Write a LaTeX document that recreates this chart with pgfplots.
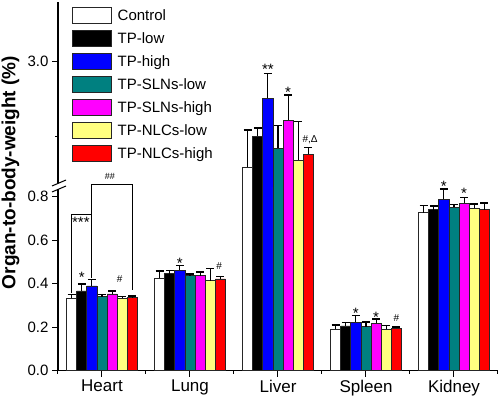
\documentclass[border=0pt]{standalone}
\usepackage{pgfplots}
\pgfplotsset{compat=1.18}
\usepackage{pgfplotstable}
\usepackage{fontspec}
\setmainfont{Liberation Sans}
\definecolor{cteal}{RGB}{0,128,128}
\definecolor{cyel}{RGB}{255,255,128}
\definecolor{cmag}{RGB}{255,0,255}
\definecolor{cblue}{RGB}{0,0,255}
\definecolor{cred}{RGB}{255,0,0}

% x: 1 Heart, 2 Lung, 3 Liver, 4 Spleen, 5 Kidney; y = mean, e = SD (upper)
\pgfplotstableread{
x y e
1 0.332 0.018
2 0.424 0.033
3 2.294 0.249
4 0.189 0.020
5 0.726 0.032
}\tControl
\pgfplotstableread{
x y e
1 0.366 0.032
2 0.445 0.014
3 2.503 0.054
4 0.205 0.015
5 0.740 0.016
}\tTPlow
\pgfplotstableread{
x y e
1 0.389 0.030
2 0.462 0.020
3 2.757 0.165
4 0.222 0.030
5 0.787 0.047
}\tTPhigh
\pgfplotstableread{
x y e
1 0.339 0.011
2 0.436 0.008
3 2.421 0.154
4 0.201 0.022
5 0.750 0.014
}\tSLNlow
\pgfplotstableread{
x y e
1 0.352 0.014
2 0.436 0.017
3 2.610 0.167
4 0.217 0.020
5 0.769 0.027
}\tSLNhigh
\pgfplotstableread{
x y e
1 0.332 0.007
2 0.413 0.057
3 2.343 0.256
4 0.189 0.017
5 0.746 0.019
}\tNLClow
\pgfplotstableread{
x y e
1 0.335 0.008
2 0.421 0.010
3 2.381 0.047
4 0.195 0.005
5 0.739 0.032
}\tNLChigh

\pgfplotsset{
  barbase/.style={ybar, bar width=0.1148, draw=black!85, line width=0.7bp,
    error bars/y dir=plus, error bars/y explicit,
    error bars/error mark=-,
    error bars/error bar style={line width=1.2bp, black},
    error bars/error mark options={rotate=90, line width=1.4bp, mark size=4bp, black}},
  common/.style={scale only axis, width=440bp, xmin=0.5, xmax=5.5,
    clip mode=individual, tick align=outside,
    axis line style={line width=1.2bp, -},
    tick style={line width=1bp, black},
    major tick length=6bp, minor tick length=3bp,
    /pgf/number format/assume math mode=true,
    yticklabel style={font=\fontsize{15bp}{18bp}\selectfont,
      /pgf/number format/.cd, fixed, fixed zerofill, precision=1}},
}
% #1: extra plot options (e.g. domain restriction)
\newcommand{\allbars}[1]{%
  \addplot[barbase, fill=white, #1] table[x expr=\thisrow{x}-0.3444, y=y, y error=e]{\tControl};
  \addplot[barbase, fill=black, #1] table[x expr=\thisrow{x}-0.2296, y=y, y error=e]{\tTPlow};
  \addplot[barbase, fill=cblue, #1] table[x expr=\thisrow{x}-0.1148, y=y, y error=e]{\tTPhigh};
  \addplot[barbase, fill=cteal, #1] table[x expr=\thisrow{x}, y=y, y error=e]{\tSLNlow};
  \addplot[barbase, fill=cmag, #1] table[x expr=\thisrow{x}+0.1148, y=y, y error=e]{\tSLNhigh};
  \addplot[barbase, fill=cyel, #1] table[x expr=\thisrow{x}+0.2296, y=y, y error=e]{\tNLClow};
  \addplot[barbase, fill=cred, #1] table[x expr=\thisrow{x}+0.3444, y=y, y error=e]{\tNLChigh};
}

\begin{document}
\begin{tikzpicture}
\useasboundingbox (0bp,0bp) rectangle (500bp,400bp);
% lower panel
\begin{axis}[common, at={(58bp,29.5bp)}, anchor=south west, height=183.5bp,
  ymin=0, ymax=0.8437,
  axis x line*=bottom, axis y line*=left,
  xtick={1,2,3,4,5}, xticklabels={Heart,Lung,Liver,Spleen,Kidney},
  minor xtick={0.5,1.5,2.5,3.5,4.5,5.5},
  xticklabel style={font=\fontsize{17bp}{20bp}\selectfont},
  ytick={0,0.2,0.4,0.6,0.8}]
  \allbars{}
  \begin{scope}[line width=1bp]
  \draw (axis cs:0.6556,0.355) -- (axis cs:0.6556,0.718) -- (axis cs:0.8852,0.718) -- (axis cs:0.8852,0.425);
  \draw (axis cs:0.8852,0.718) -- (axis cs:0.8852,0.853) -- (axis cs:1.3444,0.853) -- (axis cs:1.3444,0.370);
  \end{scope}
  \begin{scope}[every node/.style={inner sep=0pt}]
  \node[anchor=base, yshift=-8.7bp, font=\fontsize{15bp}{18bp}\selectfont] at (axis cs:0.760,0.697) {***};
  \node[anchor=center, font=\fontsize{9bp}{11bp}\selectfont] at (axis cs:1.09,0.894) {\#\#};
  \node[anchor=base, yshift=-8.7bp, font=\fontsize{15bp}{18bp}\selectfont] at (axis cs:0.7704,0.446) {*};
  \node[anchor=center, font=\fontsize{10bp}{12bp}\selectfont] at (axis cs:1.20,0.420) {\#};
  \node[anchor=base, yshift=-8.7bp, font=\fontsize{15bp}{18bp}\selectfont] at (axis cs:1.8852,0.511) {*};
  \node[anchor=center, font=\fontsize{10bp}{12bp}\selectfont] at (axis cs:2.33,0.480) {\#};
  \node[anchor=base, yshift=-8.7bp, font=\fontsize{15bp}{18bp}\selectfont] at (axis cs:3.8852,0.278) {*};
  \node[anchor=base, yshift=-8.7bp, font=\fontsize{15bp}{18bp}\selectfont] at (axis cs:4.1148,0.263) {*};
  \node[anchor=center, font=\fontsize{10bp}{12bp}\selectfont] at (axis cs:4.3444,0.240) {\#};
  \node[anchor=base, yshift=-8.7bp, font=\fontsize{15bp}{18bp}\selectfont] at (axis cs:4.8852,0.863) {*};
  \node[anchor=base, yshift=-8.7bp, font=\fontsize{15bp}{18bp}\selectfont] at (axis cs:5.1148,0.833) {*};
  \end{scope}
\end{axis}
% upper panel
\begin{axis}[common, at={(58bp,213bp)}, anchor=south west, height=185.3bp,
  ymin=2.1624, ymax=3.401,
  axis x line=none, axis y line*=left,
  ytick={3.0}, minor ytick={2.5},
  legend style={at={(axis description cs:0.0325,0.9887)}, anchor=north west,
    draw=none, fill=none, inner sep=0pt, column sep=6.4bp, row sep=0pt,
    font=\fontsize{15bp}{18bp}\selectfont, nodes={inner sep=0pt}},
  legend cell align=left,
  legend image code/.code={\path[draw=none,fill=none] (0bp,-11.5bp) rectangle (38bp,11.5bp);
    \draw[#1,/tikz/.cd,line width=0.8bp] (0bp,-8bp) rectangle (38bp,8bp);}]
  \allbars{restrict x to domain=2.5:3.5}
  \legend{Control,TP-low,TP-high,TP-SLNs-low,TP-SLNs-high,TP-NLCs-low,TP-NLCs-high}
  \begin{scope}[every node/.style={inner sep=0pt}]
  \node[anchor=base, yshift=-8.7bp, font=\fontsize{15bp}{18bp}\selectfont] at (axis cs:2.8852,2.973) {**};
  \node[anchor=base, yshift=-8.7bp, font=\fontsize{15bp}{18bp}\selectfont] at (axis cs:3.1148,2.817) {*};
  \node[anchor=center, font=\fontsize{10bp}{12bp}\selectfont] at (axis cs:3.364,2.477) {\#,Δ};
  \end{scope}
\end{axis}
% axis break
\fill[white] (50bp,211bp) rectangle (64bp,217bp);
\draw[line width=1bp] (52bp,214bp) -- (66bp,220bp);
\draw[line width=1bp] (52bp,208bp) -- (66bp,214bp);
% y label
\node[rotate=90, inner sep=0pt, font=\bfseries\fontsize{19bp}{22bp}\selectfont] at (10.5bp,227.5bp) {Organ-to-body-weight (\%)};
\end{tikzpicture}
\end{document}
